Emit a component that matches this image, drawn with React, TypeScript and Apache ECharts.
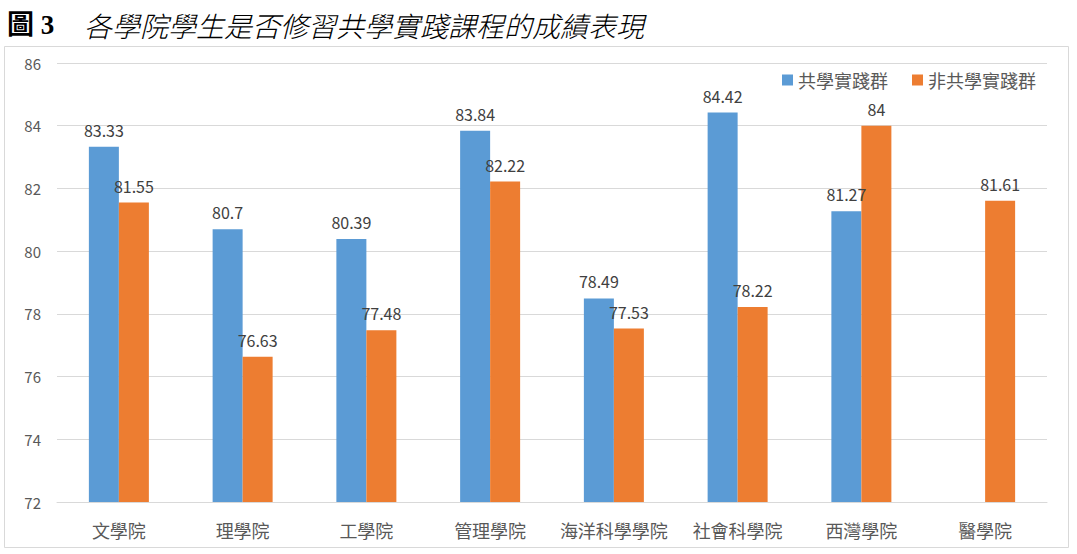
import React, { useEffect, useRef } from "react";
import * as echarts from "echarts";

const titleNumber = "圖 3";
const titleText = "各學院學生是否修習共學實踐課程的成績表現";
const categories = ["文學院", "理學院", "工學院", "管理學院", "海洋科學學院", "社會科學院", "西灣學院", "醫學院"];
const seriesNames = ["共學實踐群", "非共學實踐群"];
const practiceGroup: (number | null)[] = [83.33, 80.7, 80.39, 83.84, 78.49, 84.42, 81.27, null];
const nonPracticeGroup: (number | null)[] = [81.55, 76.63, 77.48, 82.22, 77.53, 78.22, 84, 81.61];
const yMin = 72;
const yMax = 86;
const yInterval = 2;

const FONT = "'Noto Sans CJK TC', 'Noto Sans', sans-serif";

export default function App() {
  const ref = useRef<HTMLDivElement>(null);
  useEffect(() => {
    document.body.style.margin = "0";
    if (!ref.current) return;
    const chart = echarts.init(ref.current, undefined, { renderer: "svg" });
    const label = {
      show: true,
      position: "top" as const,
      distance: 9,
      color: "#404040",
      fontSize: 16,
      fontFamily: FONT,
    };
    chart.setOption({
      animation: false,
      backgroundColor: "#ffffff",
      graphic: [
        {
          type: "rect",
          shape: { x: 4.5, y: 46.5, width: 1064, height: 501 },
          style: { fill: "none", stroke: "#d9d9d9", lineWidth: 1 },
          silent: true,
        },
        {
          type: "text",
          x: 7,
          y: 25,
          style: {
            text: titleNumber,
            fontSize: 27,
            fontWeight: "bold",
            fontFamily: "'Liberation Serif', 'Noto Sans CJK TC', serif",
            fill: "#000000",
            verticalAlign: "middle",
          },
        },
        {
          type: "text",
          x: 84,
          y: 25,
          style: {
            text: titleText,
            fontSize: 28,
            fontStyle: "italic",
            fontFamily: "'Noto Sans CJK TC', serif",
            fontWeight: 300,
            fill: "#000000",
            verticalAlign: "middle",
          },
        },
      ],
      legend: {
        data: seriesNames,
        right: 36,
        top: 66,
        icon: "rect",
        itemWidth: 11,
        itemHeight: 11,
        itemGap: 24,
        textStyle: { fontSize: 18, color: "#595959", fontFamily: FONT },
      },
      grid: { left: 57, right: 30, top: 63, bottom: 52, containLabel: false },
      xAxis: {
        type: "category",
        data: categories,
        axisLine: { show: true, lineStyle: { color: "#d9d9d9", width: 1 } },
        axisTick: { show: false },
        axisLabel: { fontSize: 18, color: "#595959", fontFamily: FONT, margin: 19, interval: 0 },
      },
      yAxis: {
        type: "value",
        min: yMin,
        max: yMax,
        interval: yInterval,
        axisLine: { show: false },
        axisTick: { show: false },
        splitLine: { lineStyle: { color: "#d9d9d9", width: 1 } },
        axisLabel: { fontSize: 15, color: "#595959", fontFamily: FONT, margin: 16 },
      },
      series: [
        {
          name: seriesNames[0],
          type: "bar",
          data: practiceGroup,
          barWidth: 30,
          barGap: "0%",
          itemStyle: { color: "#5b9bd5" },
          label,
        },
        {
          name: seriesNames[1],
          type: "bar",
          data: nonPracticeGroup,
          barWidth: 30,
          barGap: "0%",
          itemStyle: { color: "#ed7d31" },
          label,
        },
      ],
    });
    return () => chart.dispose();
  }, []);
  return <div ref={ref} style={{ width: 1077, height: 554 }} />;
}
